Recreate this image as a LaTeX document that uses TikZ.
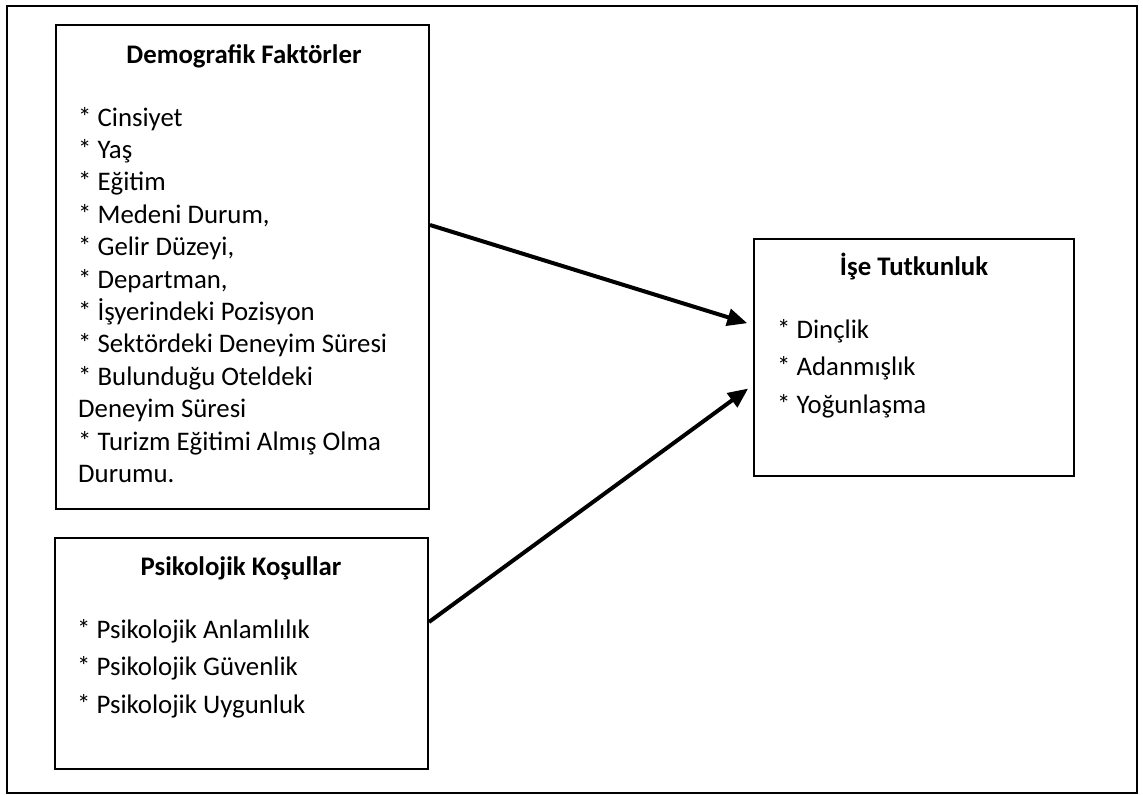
\documentclass[tikz,border=0pt]{standalone}
\usepackage{fontspec}
\setmainfont{Carlito}
\usetikzlibrary{arrows.meta}
\tikzset{
  box/.style={draw, line width=2pt, rectangle, inner sep=0pt},
  ttl/.style={anchor=base, font=\fontsize{26.8}{32}\selectfont\bfseries, inner sep=0pt},
  itm/.style={anchor=base west, font=\fontsize{26.8}{32}\selectfont, inner sep=0pt},
  conn/.style={line width=4pt, -{Triangle[length=20pt,width=17pt]}, shorten >=6pt}
}
\begin{document}
\begin{tikzpicture}[x=1pt,y=-1pt]
\useasboundingbox (0,0) rectangle (1143,795);
\node[box, minimum width=1130pt, minimum height=787pt] (frame) at (572,399.5) {};
\node[box, minimum width=373pt, minimum height=484pt] (b1) at (242.5,267) {};
\node[box, minimum width=373pt, minimum height=231pt] (b2) at (241.5,653.5) {};
\node[box, minimum width=320pt, minimum height=237pt] (b3) at (914,357.5) {};
% Box 1 texts
\node[ttl] (t1) at (244,63) {Demografik Faktörler};
\foreach \s [count=\i from 0] in {{* Cinsiyet},{* Yaş},{* Eğitim},{* Medeni Durum,},{* Gelir Düzeyi,},{* Departman,},{* İşyerindeki Pozisyon},{* Sektördeki Deneyim Süresi},{* Bulunduğu Oteldeki},{Deneyim Süresi},{* Turizm Eğitimi Almış Olma},{Durumu.}}
  \node[itm] (d\i) at (78,126+32.4*\i) {\s};
% Box 2 texts
\node[ttl] (t2) at (241,575) {Psikolojik Koşullar};
\foreach \s [count=\i from 0] in {{* Psikolojik Anlamlılık},{* Psikolojik Güvenlik},{* Psikolojik Uygunluk}}
  \node[itm] (p\i) at (77,638+37.5*\i) {\s};
% Box 3 texts
\node[ttl] (t3) at (914,275) {İşe Tutkunluk};
\foreach \s [count=\i from 0] in {{* Dinçlik},{* Adanmışlık},{* Yoğunlaşma}}
  \node[itm] (q\i) at (777,338+37.5*\i) {\s};
% Connectors
\draw[conn] ([yshift=42pt]b1.east) -- ([yshift=32.5pt]b3.west);
\draw[conn] ([yshift=31.5pt]b2.east) -- ([yshift=-27.5pt]b3.west);
\end{tikzpicture}
\end{document}
